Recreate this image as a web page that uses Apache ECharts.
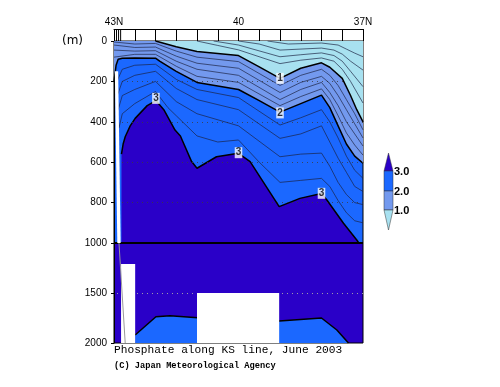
<!DOCTYPE html>
<html><head><meta charset="utf-8">
<script src="https://cdn.jsdelivr.net/npm/echarts/dist/echarts.min.js"></script>
<style>html,body{margin:0;padding:0;background:#fff}#c{width:500px;height:387px}</style>
</head><body><div id="c"></div>
<script>
// ---- axis / tick data ----
const latMin = 37, latMax = 43;
const topLabels = {43: '43N', 40: '40', 37: '37N'};
const stationTicks = [42.94, 42.89, 42.84];
const upperDepthTicks = [0, 200, 400, 600, 800, 1000];
const lowerDepthTicks = [1500, 2000];
const gridDepthsUpper = [200, 400, 600, 800];
const gridDepthsLower = [1500];

// ---- contour lines [lat, depth(m)] ----
const contour1 = [[42.0,0],[41.5,28],[41.0,52],[40.0,72],[39.5,128],[39.0,185],[38.5,135],[38.0,108],[37.8,130],[37.5,185],[37.3,270],[37.15,340],[37.0,400]];
const contour2 = [[43.0,200],[42.95,120],[42.9,90],[42.8,85],[42.5,84],[42.0,85],[41.9,100],[41.5,150],[41.0,205],[40.0,240],[39.5,295],[39.0,352],[38.5,310],[38.0,268],[37.8,330],[37.6,420],[37.4,510],[37.2,570],[37.0,605]];
const contour3 = [[42.82,560],[42.78,510],[42.73,474],[42.61,420],[42.49,383],[42.2,320],[41.99,295],[41.8,340],[41.53,441],[41.4,470],[41.13,597],[41.0,630],[40.53,573],[40.0,556],[39.72,597],[39.02,820],[38.52,779],[38.0,755],[37.87,787],[37.47,902],[37.15,985],[37.1,1000]];
const contour3Deep = [[42.49,1920],[41.99,1737],[41.65,1727],[40.98,1747],[39.02,1780],[38.0,1750],[37.63,1870],[37.35,2000]];

// thin lines (0.2 interval)
const c02 = [[39.3,0],[38.8,15],[38.0,10],[37.6,20],[37.4,40],[37.2,60],[37.0,78]];
const c04 = [[40.0,0],[39.5,15],[39.0,45],[38.0,35],[37.7,45],[37.5,65],[37.3,100],[37.0,144]];
const c06 = [[40.6,0],[40.0,20],[39.0,78],[38.5,68],[38.0,59],[37.7,72],[37.5,100],[37.3,150],[37.0,226]];
const c08 = [[41.0,0],[40.5,22],[40.0,44],[39.0,112],[38.5,95],[38.0,84],[37.7,100],[37.5,140],[37.3,200],[37.0,307]];
const c12 = [[43,5],[42.5,15],[42,12],[41.5,50],[41,80],[40,102],[39,220],[38.5,170],[38,140],[37.8,170],[37.6,220],[37.4,290],[37.2,360],[37,440]];
const c14 = [[43,20],[42.5,32],[42,30],[41.5,75],[41,110],[40,135],[39,255],[38.5,205],[38,175],[37.8,210],[37.6,270],[37.4,340],[37.2,410],[37,480]];
const c16 = [[43,45],[42.5,50],[42,48],[41.5,100],[41,140],[40,170],[39,290],[38.5,240],[38,205],[37.8,255],[37.6,320],[37.4,400],[37.2,460],[37,520]];
const c18 = [[43,80],[42.5,66],[42,66],[41.5,125],[41,175],[40,205],[39,320],[38.5,275],[38,237],[37.8,290],[37.6,370],[37.4,455],[37.2,515],[37,565]];
const c22 = [[42.93,200],[42.8,140],[42.5,120],[42,115],[41.5,190],[41,240],[40,280],[39,416],[38.5,380],[38,340],[37.8,400],[37.6,480],[37.4,570],[37.2,640],[37,680]];
const c24 = [[42.92,270],[42.8,200],[42.5,170],[42,150],[41.5,235],[41,290],[40,340],[39,482],[38.5,460],[38,420],[37.8,500],[37.6,580],[37.4,650],[37.2,720],[37,745]];
const c26 = [[42.9,340],[42.8,270],[42.5,240],[42,200],[41.5,300],[41,360],[40,420],[39,573],[38.5,560],[38,555],[37.8,620],[37.6,700],[37.4,760],[37.2,800],[37,810]];
const c28 = [[42.88,430],[42.8,360],[42.5,310],[42,250],[41.7,330],[41.5,370],[41,470],[40.5,500],[40,490],[39.5,600],[39,700],[38.5,690],[38,680],[37.8,720],[37.6,790],[37.4,850],[37.2,890],[37,900]];

// contour labels
const labelTexts = ['1', '2', '3', '3', '3'];
const labelLats = [39.0, 39.0, 41.99, 40.0, 38.0];
const labelDepths = [185, 356, 284, 553, 754];

// missing-data / bottom regions
const coastStrip = [[42.98,150],[42.9,150],[42.84,1000],[42.92,1000]];
const missingA = [[42.83,1210],[42.49,1210],[42.49,2000],[42.83,2000]];
const missingB = [[41.0,1500],[39.02,1500],[39.02,2000],[41.0,2000]];
const bottomLine = [[42.88,1000],[42.73,2000]];

// colour-bar levels
const barLabels = ['3.0', '2.0', '1.0'];

const DARK = '#2a00c8', BRIGHT = '#1b68ff', LIGHT = '#7399ee', CYAN = '#a8e1f0';

const chart = echarts.init(document.getElementById('c'));

function fillLine(data, color, origin, lw, xi, yi, z) {
  return {type: 'line', xAxisIndex: xi, yAxisIndex: yi, data: data, symbol: 'none', silent: true, z: z,
    lineStyle: {color: '#000', width: lw}, areaStyle: {color: color, opacity: 1, origin: origin}};
}
function thin(data) {
  return {type: 'line', xAxisIndex: 0, yAxisIndex: 0, data: data, symbol: 'none', silent: true, z: 6,
    lineStyle: {color: '#1a2040', width: 0.8, opacity: 0.85}};
}
function poly(pts, color, xi, yi, z) {
  return {type: 'custom', xAxisIndex: xi, yAxisIndex: yi, data: pts, silent: true, z: z,
    renderItem: function (p, api) {
      if (p.dataIndex !== 0) return null;
      return {type: 'polygon', shape: {points: pts.map(q => api.coord(q))}, style: {fill: color}};
    }};
}
function gridMarks(xi, yi, depths, style, z) {
  return {type: 'line', xAxisIndex: xi, yAxisIndex: yi, data: [], silent: true, z: z,
    markLine: {silent: true, symbol: 'none', label: {show: false}, lineStyle: style,
      data: depths.map(d => ({yAxis: d}))}};
}

const yLabelStyle = {fontFamily: 'Liberation Sans', fontSize: 10, color: '#000', margin: 7};

const option = {
  animation: false,
  grid: [
    {left: 114, top: 41, width: 249, height: 202, show: true, backgroundColor: BRIGHT, borderColor: '#000', borderWidth: 1},
    {left: 114, top: 243, width: 249, height: 100, show: true, backgroundColor: DARK, borderColor: '#000', borderWidth: 1}
  ],
  xAxis: [
    {type: 'value', gridIndex: 0, min: latMin, max: latMax, inverse: true, position: 'top', offset: 12, interval: 0.5,
      axisLine: {show: true, onZero: false, lineStyle: {color: '#000', width: 1}},
      axisTick: {show: true, inside: true, length: 12, lineStyle: {color: '#000', width: 1}},
      axisLabel: {show: true, margin: 2, fontFamily: 'Liberation Sans', fontSize: 10, color: '#000',
        formatter: v => topLabels[v] || ''}, splitLine: {show: false}},
    {type: 'value', gridIndex: 1, min: latMin, max: latMax, inverse: true, show: false}
  ],
  yAxis: [
    {type: 'value', gridIndex: 0, min: 0, max: 1000, interval: 200, inverse: true,
      axisLine: {show: true, onZero: false, lineStyle: {color: '#000'}},
      axisTick: {show: true, length: 3, lineStyle: {color: '#000'}},
      axisLabel: Object.assign({formatter: v => upperDepthTicks.includes(v) ? String(v) : ''}, yLabelStyle),
      splitLine: {show: false}},
    {type: 'value', gridIndex: 1, min: 1000, max: 2000, interval: 500, inverse: true,
      axisLine: {show: true, onZero: false, lineStyle: {color: '#000'}},
      axisTick: {show: true, length: 3, lineStyle: {color: '#000'}},
      axisLabel: Object.assign({formatter: v => lowerDepthTicks.includes(v) ? String(v) : ''}, yLabelStyle),
      splitLine: {show: false}}
  ],
  series: [
    // upper section
    fillLine(contour3, DARK, 'end', 1.5, 0, 0, 3),
    fillLine(contour2, LIGHT, 'start', 1.5, 0, 0, 4),
    fillLine(contour1, CYAN, 'start', 1.5, 0, 0, 5),
    thin(c02), thin(c04), thin(c06), thin(c08),
    thin(c12), thin(c14), thin(c16), thin(c18),
    thin(c22), thin(c24), thin(c26), thin(c28),
    poly(coastStrip, '#ffffff', 0, 0, 7),
    gridMarks(0, 0, gridDepthsUpper, {color: 'rgba(60,60,60,0.8)', type: [1, 4], width: 1}, 8),
    gridMarks(0, 0, [1000], {color: '#000', type: 'solid', width: 2}, 9),
    {type: 'custom', xAxisIndex: 0, yAxisIndex: 0, silent: true, z: 9, data: stationTicks.map(l => [l, 0]),
      renderItem: function (p, api) {
        const pt = api.coord([api.value(0), 0]);
        return {type: 'line', shape: {x1: pt[0], y1: pt[1] - 12, x2: pt[0], y2: pt[1]}, style: {stroke: '#000', lineWidth: 1}};
      }},
    {type: 'scatter', xAxisIndex: 0, yAxisIndex: 0, silent: true, symbolSize: 1, z: 20,
      itemStyle: {color: 'rgba(0,0,0,0)'},
      data: labelTexts.map((t, i) => ({value: [labelLats[i], labelDepths[i]], name: t})),
      label: {show: true, position: 'inside', formatter: p => p.name, color: '#000', fontFamily: 'Liberation Sans',
        fontWeight: 'bold', fontSize: 10, backgroundColor: '#fff', padding: [1, 1, 0, 1]}},
    // lower section
    fillLine(contour3Deep, BRIGHT, 'end', 1.5, 1, 1, 3),
    poly(missingA, '#ffffff', 1, 1, 7),
    poly(missingB, '#ffffff', 1, 1, 7),
    {type: 'line', xAxisIndex: 1, yAxisIndex: 1, data: bottomLine, symbol: 'none', silent: true, z: 8,
      lineStyle: {color: '#999', width: 1}},
    gridMarks(1, 1, gridDepthsLower, {color: 'rgba(170,170,170,0.9)', type: [1, 4], width: 1}, 6)
  ],
  graphic: [
    {type: 'text', left: 62, top: 35, style: {text: '(m)', font: '12px "DejaVu Sans"', fill: '#000'}},
    {type: 'text', left: 114, top: 345, style: {text: 'Phosphate along KS line, June 2003', font: '11.2px "Liberation Mono"', fill: '#000'}},
    {type: 'text', left: 114, top: 361, style: {text: '(C) Japan Meteorological Agency', font: 'bold 8.7px "Liberation Mono"', fill: '#000'}},
    // colour bar
    {type: 'polygon', shape: {points: [[384, 171], [393, 171], [388.5, 153]]}, style: {fill: DARK, stroke: '#333', lineWidth: 0.5}},
    {type: 'rect', shape: {x: 384, y: 171, width: 9, height: 20}, style: {fill: BRIGHT, stroke: '#333', lineWidth: 0.5}},
    {type: 'rect', shape: {x: 384, y: 191, width: 9, height: 19}, style: {fill: LIGHT, stroke: '#333', lineWidth: 0.5}},
    {type: 'polygon', shape: {points: [[384, 210], [393, 210], [388.5, 230]]}, style: {fill: CYAN, stroke: '#333', lineWidth: 0.5}},
    {type: 'text', left: 394, top: 166, style: {text: barLabels[0], font: 'bold 11px "Liberation Sans"', fill: '#000'}},
    {type: 'text', left: 394, top: 186, style: {text: barLabels[1], font: 'bold 11px "Liberation Sans"', fill: '#000'}},
    {type: 'text', left: 394, top: 205, style: {text: barLabels[2], font: 'bold 11px "Liberation Sans"', fill: '#000'}}
  ]
};
chart.setOption(option);
</script>
</body></html>
